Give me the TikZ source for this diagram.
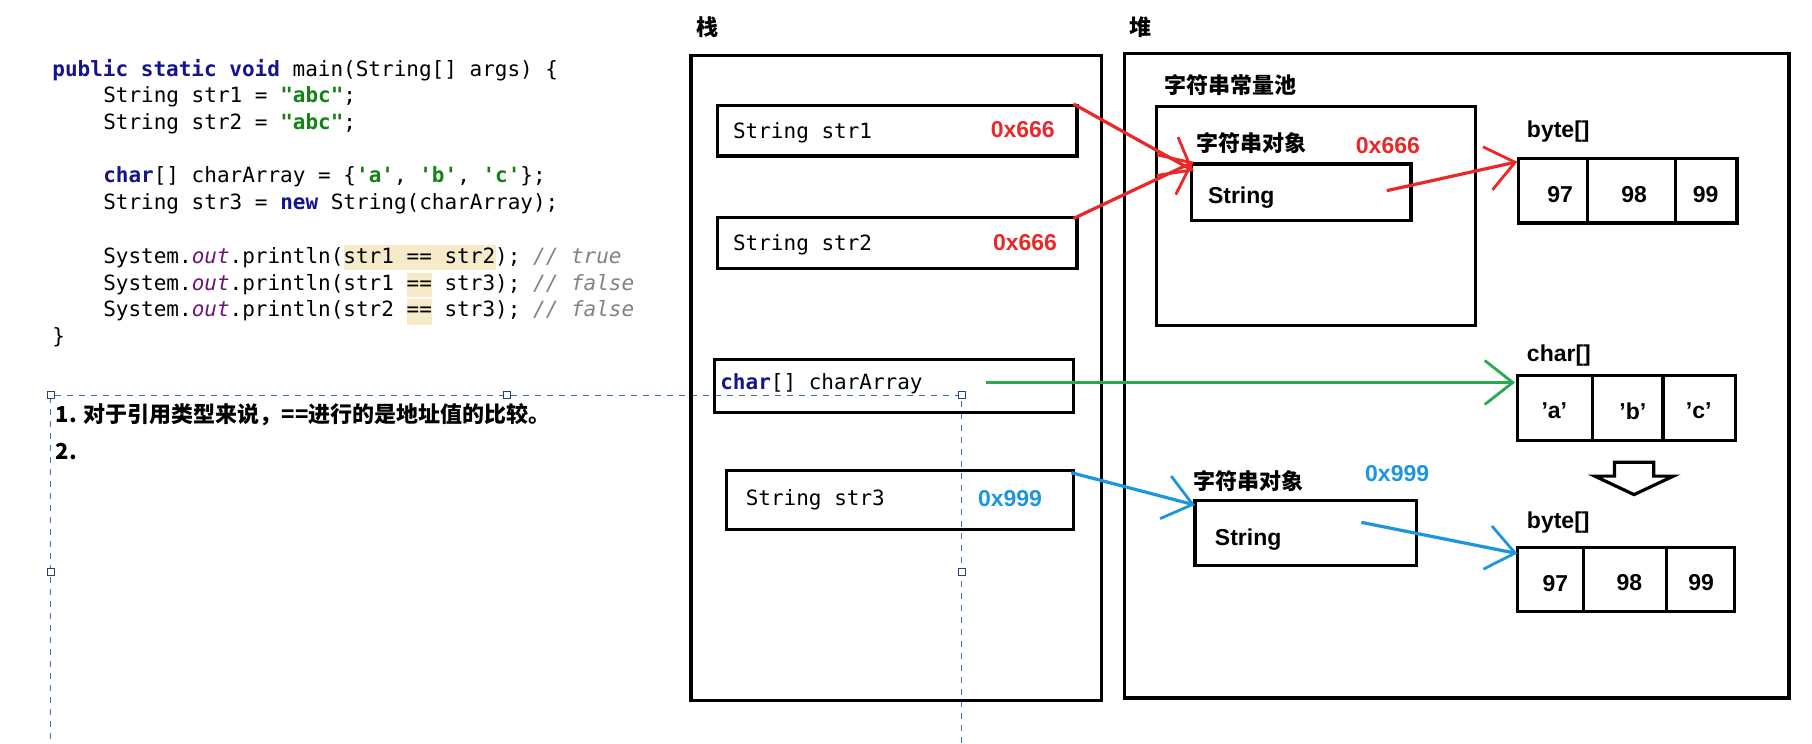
\documentclass[tikz,border=0pt]{standalone}
\usepackage{fontspec}
\setmainfont{Liberation Sans}
\setmonofont{DejaVu Sans Mono}
\newfontfamily\cjk{Noto Sans CJK SC}
\usetikzlibrary{arrows.meta}
\definecolor{kw}{RGB}{20,20,140}
\definecolor{strg}{RGB}{20,130,20}
\definecolor{fld}{RGB}{110,20,120}
\definecolor{cmt}{RGB}{130,130,130}
\definecolor{hl}{RGB}{246,234,200}
\definecolor{myred}{RGB}{235,40,40}
\definecolor{mygreen}{RGB}{40,170,80}
\definecolor{myblue}{RGB}{30,150,220}
\definecolor{sel}{RGB}{60,110,190}
\newcommand{\kwd}[1]{{\color{kw}\bfseries #1}}
\newcommand{\lit}[1]{{\color{strg}\bfseries #1}}
\newcommand{\fldo}{{\color{fld}\itshape out}}
\newcommand{\cmnt}[1]{{\color{cmt}\itshape #1}}
\begin{document}
\begin{tikzpicture}[x=0.5778pt,y=-0.5778pt,
  box/.style={draw,line width=1.6pt},
  code/.style={anchor=base west,inner sep=0,font=\ttfamily\fontsize{10.5}{12}\selectfont},
  lbl/.style={anchor=base west,inner sep=0,font=\bfseries\fontsize{11.5}{13}\selectfont},
  cn/.style={anchor=base west,inner sep=0,font=\cjk\bfseries\fontsize{11}{13}\selectfont},
  num/.style={inner sep=0,font=\bfseries\fontsize{11.5}{13}\selectfont},
  ptr/.style={line width=1.6pt,-{Straight Barb[length=14pt,width=22pt,line width=1.4pt]}},
  handle/.style={draw=sel!60!black,fill=white,line width=0.4pt,minimum size=3.5pt,inner sep=0}]
\useasboundingbox (0,0) rectangle (1568,643);
\fill[white] (0,0) rectangle (1568,643);
% code
\fill[hl] (298,212) rectangle (429,234);
\fill[hl] (352,236) rectangle (374,257);
\fill[hl] (352,259) rectangle (374,281);
\node[code] (c1) at (45,66) {\kwd{public static void} main(String[] args) \{};
\node[code] (c2) at (89,89) {String str1 = \lit{"abc"};};
\node[code] (c3) at (89,112) {String str2 = \lit{"abc"};};
\node[code] (c4) at (89,158) {\kwd{char}[] charArray = \{\lit{'a'}, \lit{'b'}, \lit{'c'}\};};
\node[code] (c5) at (89,181) {String str3 = \kwd{new} String(charArray);};
\node[code] (c6) at (89,228) {System.\fldo.println(str1 == str2); \cmnt{// true}};
\node[code] (c7) at (89,251) {System.\fldo.println(str1 == str3); \cmnt{// false}};
\node[code] (c8) at (89,274) {System.\fldo.println(str2 == str3); \cmnt{// false}};
\node[code] (c9) at (45,297) {\}};
% selection frame
\draw[sel,dashed,line width=0.6pt] (44,650) -- (44,342) -- (832,342) -- (832,650);
\foreach \p in {(44,342),(439,342),(832,342),(44,495),(832,495)}
  \node[handle] at \p {};
\node[cn] (t1) at (48,366) {1. 对于引用类型来说，==进行的是地址值的比较。};
\node[cn] (t2) at (48,398) {2.};
% stack
\node[cn] (stk) at (602,31) {栈};
\draw[box] (598,48) rectangle (953,606);
\node[box,minimum width=311*0.5778pt,minimum height=44*0.5778pt] (s1) at (776.5,113) {};
\node[code] at (634,120) {String str1};
\node[lbl,myred] at (857,119) {0x666};
\node[box,minimum width=311*0.5778pt,minimum height=44*0.5778pt] (s2) at (776.5,210) {};
\node[code] at (634,217) {String str2};
\node[lbl,myred] at (859,217) {0x666};
\node[box,minimum width=311*0.5778pt,minimum height=46*0.5778pt] (s3) at (773.5,334) {};
\node[code] at (623,337) {\kwd{char}[] charArray};
\node[box,minimum width=300*0.5778pt,minimum height=51*0.5778pt] (s4) at (779,432.5) {};
\node[code] at (645,437) {String str3};
\node[lbl,myblue] at (846,438) {0x999};
% heap
\node[cn] (hp) at (977,31) {堆};
\draw[box] (973,46) rectangle (1548,604);
\node[cn] (pool) at (1007,81) {字符串常量池};
\draw[box] (1001,92) rectangle (1277,282);
\node[cn] (o1) at (1035,131) {字符串对象};
\node[lbl,myred] at (1173,133) {0x666};
\node[box,minimum width=190*0.5778pt,minimum height=49*0.5778pt] (str1o) at (1126,166.5) {};
\node[lbl] at (1045,176) {String};
\node[lbl] at (1321,119) {byte[]};
\draw[box] (1314,137) rectangle (1503,193);
\draw[box] (1374,137) -- (1374,193) (1450,137) -- (1450,193);
\node[num] at (1350,168) {97};
\node[num] at (1414,168) {98};
\node[num] at (1476,168) {99};
\node[lbl] at (1321,313) {char[]};
\draw[box] (1313,325) rectangle (1502,381);
\draw[box] (1378,325) -- (1378,381) (1439,325) -- (1439,381);
\node[num] at (1345,355) {'a'};
\node[num] at (1413,356) {'b'};
\node[num] at (1470,355) {'c'};
\draw[line width=1.6pt,fill=white] (1397,400) -- (1431,400) -- (1431,412) -- (1448,412)
  -- (1414,428) -- (1380,412) -- (1397,412) -- cycle;
\node[cn] (o2) at (1032,424) {字符串对象};
\node[lbl,myblue] at (1181,417) {0x999};
\node[box,minimum width=192*0.5778pt,minimum height=56*0.5778pt] (str3o) at (1130,461) {};
\node[lbl] at (1051,472) {String};
\node[lbl] at (1321,457) {byte[]};
\draw[box] (1313,474) rectangle (1501,529);
\draw[box] (1370,474) -- (1370,529) (1442,474) -- (1442,529);
\node[num] at (1346,505) {97};
\node[num] at (1410,504) {98};
\node[num] at (1472,504) {99};
% pointers
\coordinate (a1s) at (929,90);   \coordinate (a1e) at (1033,148);
\coordinate (a2s) at (929,189);  \coordinate (a2e) at (1033,140);
\coordinate (a3s) at (1200,165); \coordinate (a3e) at (1313,140);
\coordinate (a4s) at (853,331);  \coordinate (a4e) at (1311,331);
\coordinate (a5s) at (927,409);  \coordinate (a5e) at (1034,437);
\coordinate (a6s) at (1178,452); \coordinate (a6e) at (1313,479);
\draw[ptr,myred] (a1s) -- (a1e);
\draw[ptr,myred] (a2s) -- (a2e);
\draw[ptr,myred] (a3s) -- (a3e);
\draw[ptr,mygreen] (a4s) -- (a4e);
\draw[ptr,myblue] (a5s) -- (a5e);
\draw[ptr,myblue] (a6s) -- (a6e);
\end{tikzpicture}
\end{document}
